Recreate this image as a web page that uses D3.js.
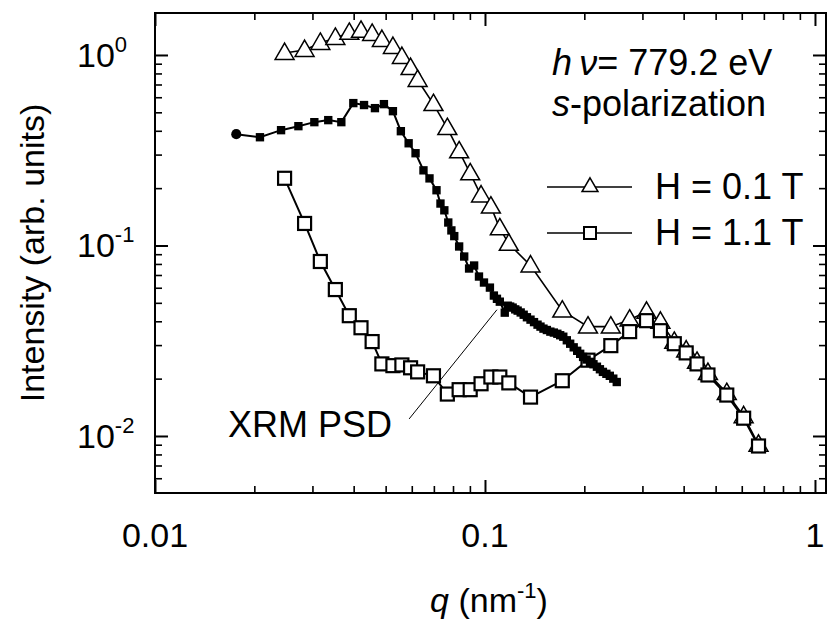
<!DOCTYPE html>
<html>
<head>
<meta charset="utf-8">
<script src="https://cdn.jsdelivr.net/npm/d3@7/dist/d3.min.js"></script>
<style>
  html, body { margin: 0; padding: 0; background: #fff; }
  svg { display: block; }
  text { font-family: "Liberation Sans", Arial, sans-serif; fill: #000; }
</style>
</head>
<body>
<svg id="chart" width="829" height="624"></svg>
<script>
// ---- data ----
const qGrid = [0.0247,0.0284,0.0317,0.0352,0.0388,0.0421,0.0455,0.0487,0.0526,0.0560,0.0595,0.0625,0.0698,0.0769,0.0835,0.0902,0.0973,0.1042,0.1109,0.1181,0.1374,0.1715,0.2052,0.2406,0.2744,0.3087,0.3401,0.3747,0.4071,0.4391,0.4739,0.5404,0.6079,0.6744];
const iH01 = [1.024,1.062,1.157,1.229,1.306,1.338,1.290,1.199,1.102,0.976,0.854,0.739,0.552,0.413,0.312,0.239,0.183,0.160,0.123,0.102,0.0785,0.0455,0.0375,0.0375,0.0408,0.0449,0.0398,0.0312,0.0281,0.0245,0.0214,0.0168,0.0127,0.0090];
const iH11 = [0.2253,0.1305,0.0824,0.0587,0.0428,0.0370,0.0313,0.0239,0.0234,0.0236,0.0228,0.0217,0.0207,0.0166,0.0175,0.0175,0.0188,0.0204,0.0204,0.0190,0.0160,0.0195,0.0250,0.0298,0.0353,0.0403,0.0357,0.0305,0.0273,0.0239,0.0209,0.0164,0.0124,0.00886];
const qXRM = [0.01763,0.0208,0.0241,0.0272,0.0304,0.0335,0.0367,0.0399,0.0430,0.0464,0.0494,0.0526,0.0556,0.0587,0.0616,0.0651,0.0679,0.0713,0.0733,0.0753,0.0774,0.0791,0.0807,0.0835,0.0865,0.0895,0.0927,0.0959,0.0993,0.1035,0.1064,0.1087,0.1109,0.1148,0.1172,0.1192,0.1213,0.1235,0.1256,0.1283,0.1310,0.1340,0.1374,0.1408,0.1443,0.1473,0.1504,0.1540,0.1578,0.1617,0.1657,0.1690,0.1727,0.1770,0.1812,0.1857,0.1903,0.1943,0.1983,0.2032,0.2081,0.2132,0.2184,0.2230,0.2277,0.2333,0.2389,0.2448,0.2508];
const iXRM = [0.384,0.370,0.403,0.423,0.444,0.455,0.444,0.559,0.546,0.526,0.552,0.507,0.398,0.344,0.305,0.248,0.225,0.195,0.166,0.153,0.132,0.120,0.112,0.0988,0.0875,0.0757,0.0785,0.0687,0.0639,0.0601,0.0546,0.0525,0.0507,0.0444,0.0483,0.0478,0.0472,0.0462,0.0455,0.0445,0.0433,0.0420,0.0408,0.0396,0.0384,0.0375,0.0366,0.0360,0.0353,0.0349,0.0344,0.0338,0.0332,0.0318,0.0305,0.0292,0.0280,0.0270,0.0260,0.0252,0.0245,0.0238,0.0231,0.0224,0.0217,0.0212,0.0207,0.0200,0.0192];
const annotLine = [[0.0589, 0.01229], [0.1087, 0.0460]];
const legendLabels = ["H = 0.1 T", "H = 1.1 T"];
const xTickVals = [0.01, 0.1, 1];
const xTickLabels = ["0.01", "0.1", "1"];
const yTickVals = [1, 0.1, 0.01];
const yTickExps = ["0", "-1", "-2"];

// ---- layout ----
const L = 155, R = 826, T = 13, B = 493;
const svg = d3.select("#chart");
const x = d3.scaleLog().domain([0.01, 1.08]).range([L, R]);
const y = d3.scaleLog().domain([0.00502, 1.661]).range([B, T]);

function minorTicks(scale) {
  const [a, b] = scale.domain();
  const out = [];
  for (let e = -4; e <= 1; e++) for (let m = 2; m <= 9; m++) {
    const v = m * Math.pow(10, e);
    if (v > a && v < b) out.push(v);
  }
  return out;
}
const xMinor = minorTicks(x), yMinor = minorTicks(y);

function drawAxis(axisFn, scale, vals, size, tr, sw) {
  const g = svg.append("g").attr("transform", tr)
    .call(axisFn(scale).tickValues(vals).tickSize(size).tickFormat(""));
  g.select(".domain").remove();
  g.selectAll("line").attr("stroke", "#000").attr("stroke-width", sw);
}
drawAxis(d3.axisBottom, x, xTickVals, -13, `translate(0,${B})`, 2);
drawAxis(d3.axisBottom, x, xMinor, -7, `translate(0,${B})`, 1.6);
drawAxis(d3.axisTop, x, xTickVals, -13, `translate(0,${T})`, 2);
drawAxis(d3.axisTop, x, xMinor, -7, `translate(0,${T})`, 1.6);
drawAxis(d3.axisLeft, y, yTickVals, -13, `translate(${L},0)`, 2);
drawAxis(d3.axisLeft, y, yMinor, -7, `translate(${L},0)`, 1.6);
drawAxis(d3.axisRight, y, yTickVals, -13, `translate(${R},0)`, 2);
drawAxis(d3.axisRight, y, yMinor, -7, `translate(${R},0)`, 1.6);

// frame
svg.append("rect").attr("x", L).attr("y", T).attr("width", R - L).attr("height", B - T)
  .attr("fill", "none").attr("stroke", "#000").attr("stroke-width", 2);

// tick labels
svg.selectAll(".xl").data(xTickVals).enter().append("text")
  .attr("x", d => x(d)).attr("y", 547).attr("text-anchor", "middle")
  .attr("font-size", 34).text((d, i) => xTickLabels[i]);
yTickVals.forEach((v, i) => {
  const t = svg.append("text").attr("x", 77).attr("y", y(v) + 12).attr("font-size", 34);
  t.append("tspan").text("10");
  t.append("tspan").attr("font-size", 22).attr("dy", -15).text(yTickExps[i]);
});

// axis titles
const xt = svg.append("text").attr("x", 489).attr("y", 612).attr("text-anchor", "middle").attr("font-size", 34);
xt.append("tspan").attr("font-style", "italic").text("q");
xt.append("tspan").text(" (nm");
xt.append("tspan").attr("font-size", 22).attr("dy", -14).text("-1");
xt.append("tspan").attr("dy", 14).text(")");
svg.append("text").attr("transform", "translate(44,253) rotate(-90)").attr("text-anchor", "middle")
  .attr("font-size", 34).text("Intensity (arb. units)");

// series
const lineGen = d3.line().x(d => x(d[0])).y(d => y(d[1]));
const triPts = qGrid.map((q, i) => [q, iH01[i]]);
const sqPts = qGrid.map((q, i) => [q, iH11[i]]);
const xrmPts = qXRM.map((q, i) => [q, iXRM[i]]);
const triSym = d3.symbol().type(d3.symbolTriangle).size(155);
const triSymL = d3.symbol().type(d3.symbolTriangle).size(110);

// annotation line
svg.append("path").attr("d", lineGen(annotLine)).attr("stroke", "#000").attr("stroke-width", 1).attr("fill", "none");

// H = 0.1 T triangles
svg.append("path").attr("d", lineGen(triPts)).attr("stroke", "#000").attr("stroke-width", 1.6).attr("fill", "none");
svg.selectAll(".tri").data(triPts).enter().append("path")
  .attr("d", triSym).attr("transform", d => `translate(${x(d[0])},${y(d[1]) + 1})`)
  .attr("fill", "#fff").attr("stroke", "#000").attr("stroke-width", 1.5);

// H = 1.1 T squares
svg.append("path").attr("d", lineGen(sqPts)).attr("stroke", "#000").attr("stroke-width", 2).attr("fill", "none");
svg.selectAll(".sq").data(sqPts).enter().append("rect")
  .attr("x", d => x(d[0]) - 6.5).attr("y", d => y(d[1]) - 6.5).attr("width", 13).attr("height", 13)
  .attr("fill", "#fff").attr("stroke", "#000").attr("stroke-width", 2.2);

// XRM PSD filled
svg.append("path").attr("d", lineGen(xrmPts)).attr("stroke", "#000").attr("stroke-width", 2).attr("fill", "none");
svg.selectAll(".xr").data(xrmPts).enter().append("path")
  .attr("d", (d, i) => d3.symbol().type(i === 0 ? d3.symbolCircle : d3.symbolSquare).size(i === 0 ? 80 : 70)())
  .attr("transform", d => `translate(${x(d[0])},${y(d[1])})`)
  .attr("fill", "#000");

// text annotations
const t1 = svg.append("text").attr("x", 552).attr("y", 75).attr("font-size", 36);
t1.append("tspan").attr("font-style", "italic").text("h\u2009\u03BD");
t1.append("tspan").text("= 779.2 eV");
const t2 = svg.append("text").attr("x", 552).attr("y", 116).attr("font-size", 36);
t2.append("tspan").attr("font-style", "italic").text("s");
t2.append("tspan").text("-polarization");
svg.append("text").attr("x", 228).attr("y", 437).attr("font-size", 36).text("XRM PSD");

// legend
const legY = [187, 233];
legY.forEach((ly, i) => {
  svg.append("line").attr("x1", 547).attr("x2", 632).attr("y1", ly).attr("y2", ly)
    .attr("stroke", "#000").attr("stroke-width", 1.6);
  if (i === 0) {
    svg.append("path").attr("d", triSymL).attr("transform", `translate(590,${ly})`)
      .attr("fill", "#fff").attr("stroke", "#000").attr("stroke-width", 1.5);
  } else {
    svg.append("rect").attr("x", 584).attr("y", ly - 6).attr("width", 12).attr("height", 12)
      .attr("fill", "#fff").attr("stroke", "#000").attr("stroke-width", 2);
  }
  svg.append("text").attr("x", 655).attr("y", ly + 12).attr("font-size", 36).text(legendLabels[i]);
});
</script>
</body>
</html>
